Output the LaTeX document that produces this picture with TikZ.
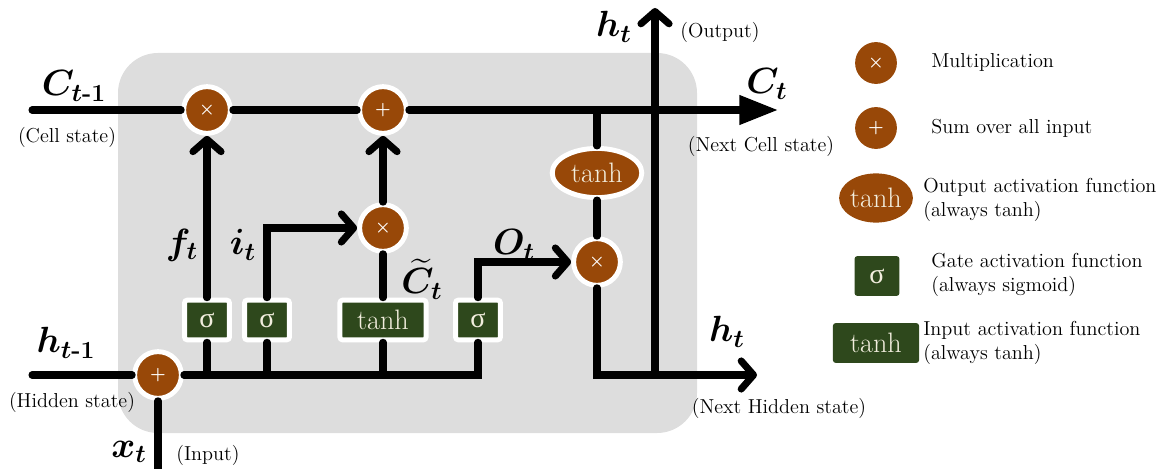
\documentclass[tikz,border=0pt]{standalone}
\usepackage{amsmath,amssymb}
\usepackage{bm}
\usepackage{fontspec}
\newfontfamily\greekfont{Liberation Serif}
\usepackage{tikz}
\usetikzlibrary{positioning, arrows.meta, calc}
\usetikzlibrary{shapes.geometric}
\definecolor{opbrown}{RGB}{152,72,8}
\definecolor{gategreen}{RGB}{46,72,28}
\definecolor{cellgray}{RGB}{221,221,221}
\definecolor{boxtext}{RGB}{242,238,222}
\newcommand{\sig}{{\greekfont σ}}
\tikzset{
  wire/.style={line width=4pt, line cap=round},
  arr/.style={-{Straight Barb[length=7pt,width=16pt,round]}},
  bigarr/.style={-{Triangle[length=22pt,width=16pt]}},
  opnode/.style={circle, fill=opbrown, draw=white, line width=2.8pt, minimum size=26.6pt, inner sep=0pt, text=white, font=\sffamily\bfseries},
  gatebox/.style={rectangle, rounded corners=1.5pt, fill=gategreen, draw=white, line width=2.8pt, minimum width=25.5pt, minimum height=22.6pt, inner sep=0pt, text=boxtext, font=\fontsize{16}{18}\selectfont},
  tanhbox/.style={gatebox, minimum width=49pt},
  actell/.style={ellipse, fill=opbrown, draw=white, line width=2.8pt, minimum width=51pt, minimum height=28pt, inner sep=0pt, text=boxtext, font=\fontsize{16}{18}\selectfont},
  lbl/.style={font=\fontsize{20}{24}\selectfont, inner sep=0pt},
  note/.style={font=\fontsize{11.5}{14}\selectfont, inner sep=0pt},
}
\begin{document}
\begin{tikzpicture}[x=0.02cm, y=-0.02cm]
    \useasboundingbox (0,0) rectangle (1173,469);
    % Cell background
    \fill[cellgray, rounded corners=0.8cm] (118,53) rectangle (697,433);

    % Operation nodes
    \node[opnode] (mulf) at (207,110) {$\bm{\times}$};
    \node[opnode] (addc) at (383,110) {$\bm{+}$};
    \node[opnode] (muli) at (383,228) {$\bm{\times}$};
    \node[opnode] (mulo) at (597,262) {$\bm{\times}$};
    \node[opnode] (addx) at (158,375) {$\bm{+}$};
    \node[actell] (tanhc) at (597,173) {tanh};

    % Gates
    \node[gatebox] (sigf) at (207,320) {\sig};
    \node[gatebox] (sigi) at (267,320) {\sig};
    \node[tanhbox] (tanhi) at (383,320) {tanh};
    \node[gatebox] (sigo) at (478,320) {\sig};

    % Free ends
    \coordinate (cin) at (32,110);
    \coordinate (cout) at (778,110);
    \coordinate (ctap) at (597,110);
    \coordinate (hin) at (32,375);
    \coordinate (xin) at (158,469);
    \coordinate (hout) at (757,375);
    \coordinate (htap) at (655,375);
    \coordinate (htop) at (655,8);

    % Cell state line
    \draw[wire] (cin) -- (mulf);
    \draw[wire] (mulf) -- (addc);
    \draw[wire, bigarr] (addc) -- (cout);
    \draw[wire] (ctap) -- (tanhc);
    \draw[wire] (tanhc) -- (mulo);
    \draw[wire, arr] (mulo) |- (hout);

    % Hidden state and input
    \draw[wire] (hin) -- (addx);
    \draw[wire] (addx) -- (xin);
    \draw[wire] (addx) -- (sigo |- addx) -- (sigo);
    \draw[wire] (sigf |- addx) -- (sigf);
    \draw[wire] (sigi |- addx) -- (sigi);
    \draw[wire] (tanhi |- addx) -- (tanhi);

    % Gate outputs
    \draw[wire, arr] (sigf) -- (mulf);
    \draw[wire, arr] (sigi) |- (muli);
    \draw[wire] (tanhi) -- (muli);
    \draw[wire, arr] (muli) -- (addc);
    \draw[wire, arr] (sigo) |- (mulo);
    \draw[wire, arr] (htap) -- (htop);

    % Labels
    \node[lbl] (lcin) at (74,86) {$\bm{C}_{\bm{t}\textbf{-1}}$};
    \node[note] (ncin) at (67,137) {(Cell state)};
    \node[lbl] (lhin) at (66,343) {$\bm{h}_{\bm{t}\textbf{-1}}$};
    \node[note] (nhin) at (72,402) {(Hidden state)};
    \node[lbl] (lxin) at (129,452) {$\bm{x}_{\bm{t}}$};
    \node[note] (nxin) at (208,455) {(Input)};
    \node[lbl] (lf) at (182,245) {$\bm{f}_{\bm{t}}$};
    \node[lbl] (li) at (243,245) {$\bm{i}_{\bm{t}}$};
    \node[lbl] (lct) at (422,279) {$\widetilde{\bm{C}}_{\bm{t}}$};
    \node[lbl] (lo) at (514,245) {$\bm{O}_{\bm{t}}$};
    \node[lbl] (lhtop) at (614,27) {$\bm{h}_{\bm{t}}$};
    \node[note] (nhtop) at (720,32) {(Output)};
    \node[lbl] (lcout) at (767,84) {$\bm{C}_{\bm{t}}$};
    \node[note] (ncout) at (761,146) {(Next Cell state)};
    \node[lbl] (lhout) at (727,332) {$\bm{h}_{\bm{t}}$};
    \node[note] (nhout) at (779,408) {(Next Hidden state)};

    % Legend
    \node[opnode, draw=none, minimum size=23.8pt] (kmul) at (876,63) {$\bm{\times}$};
    \node[note, anchor=west] (tmul) at (931,62) {Multiplication};
    \node[opnode, draw=none, minimum size=23.8pt] (kadd) at (876,128) {$\bm{+}$};
    \node[note, anchor=west] (tadd) at (931,128) {Sum over all input};
    \node[actell, draw=none, minimum width=42pt] (kell) at (876,198) {tanh};
    \node[note, anchor=west, align=left] (tell) at (923,200) {Output activation function\\(always tanh)};
    \node[gatebox, draw=none] (ksig) at (877,276) {\sig};
    \node[note, anchor=west, align=left] (tsig) at (931,275) {Gate activation function\\(always sigmoid)};
    \node[tanhbox, draw=none] (ktanh) at (876,343) {tanh};
    \node[note, anchor=west, align=left] (ttanh) at (923,343) {Input activation function\\(always tanh)};
\end{tikzpicture}
\end{document}
